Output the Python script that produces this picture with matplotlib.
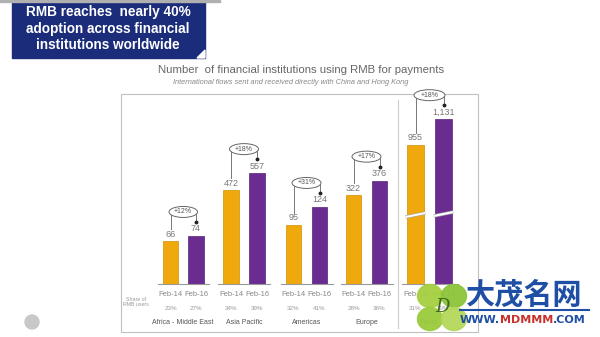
import numpy as np
import matplotlib.pyplot as plt
from matplotlib.patches import Rectangle, Ellipse, Circle

plt.rcParams['font.family'] = ['Liberation Sans', 'DejaVu Sans']

# data
groups = ['Africa - Middle East', 'Asia Pacific', 'Americas', 'Europe', 'World']
periods = ['Feb-14', 'Feb-16']
feb14 = [66, 472, 95, 322, 955]
feb16 = [74, 557, 124, 376, 1131]
share14 = ['23%', '34%', '32%', '28%', '31%']
share16 = ['27%', '39%', '41%', '36%', '39%']
growth = ['+12%', '+18%', '+31%', '+17%', '+18%']

# layout (pixels): first bar centre, bar spacing, y-limit of each panel
first_x = [170.5, 231, 293.5, 353.5, 415.5]
spacing = [25.5, 26, 26, 26, 28]
ytop = [268, 874, 280, 633, 1194]

W, H = 600, 337
ORANGE = '#f0a90c'
PURPLE = '#6a2c90'
GREY = '#777777'

fig = plt.figure(figsize=(W / 100, H / 100), dpi=100)
fig.patch.set_facecolor('white')


def rect(x, y, w, h):
    return [x / W, 1 - (y + h) / H, w / W, h / H]


base_y, top_y = 284, 110
panels = []
for i, g in enumerate(groups):
    sp = spacing[i]
    ax = fig.add_axes(rect(first_x[i] - 0.5 * sp, top_y, 2 * sp, base_y - top_y))
    ax.patch.set_alpha(0)
    vals = [feb14[i], feb16[i]]
    ax.bar([0, 1], vals, width=0.6, color=[ORANGE, PURPLE],
           edgecolor=['#d08f00', '#56207a'], linewidth=0.5)
    ax.set_xlim(-0.5, 1.5)
    ax.set_ylim(0, ytop[i])
    for s in ['top', 'left', 'right']:
        ax.spines[s].set_visible(False)
    ax.spines['bottom'].set_color('#999999')
    ax.spines['bottom'].set_linewidth(0.8)
    ax.set_yticks([])
    ax.set_xticks([0, 1], periods)
    ax.tick_params(axis='x', length=0, pad=5, labelsize=5.5, labelcolor='#888888')
    for j, v in enumerate(vals):
        ax.annotate(f'{v:,}', xy=(j, v), xytext=(0, 7), textcoords='offset pixels',
                    ha='center', va='center', fontsize=6.5, color=GREY)
    for j, s in enumerate([share14[i], share16[i]]):
        ax.annotate(s, xy=(j, 0), xycoords=('data', 'axes fraction'),
                    xytext=(0, -24), textcoords='offset pixels',
                    ha='center', va='center', fontsize=4.5, color='#999999')
    ax.annotate(g, xy=(0.5, 0), xycoords=('data', 'axes fraction'),
                xytext=(0, -39), textcoords='offset pixels',
                ha='center', va='center', fontsize=5, color='#555555')
    panels.append(ax)

# overlay in pixel coordinates (origin top-left)
ov = fig.add_axes([0, 0, 1, 1], zorder=5)
ov.set_xlim(0, W)
ov.set_ylim(H, 0)
ov.axis('off')
ov.patch.set_alpha(0)


def to_px(ax, x, y):
    dx, dy = ax.transData.transform((x, y))
    return dx, H - dy


# header box
ov.add_patch(Rectangle((12, 0), 193, 58, color='#1b2c7a', zorder=1))
ov.add_patch(Rectangle((0, 0), 220, 2, color='#b0b0b0', zorder=1))
for k, line in enumerate(['RMB reaches  nearly 40%', 'adoption across financial',
                          'institutions worldwide']):
    ov.text(108, 12 + 16.5 * k, line, color='white', fontsize=9.8, fontweight='bold',
            ha='center', va='center', zorder=2)
ov.add_patch(plt.Polygon([[197, 58], [205, 50], [205, 58]], color='white', zorder=2))

# chart titles and frame
ov.text(301, 70, 'Number  of financial institutions using RMB for payments',
        fontsize=8.2, color='#666666', ha='center', va='center')
ov.text(291, 83, 'International flows sent and received directly with China and Hong Kong',
        fontsize=5.3, color='#888888', style='italic', ha='center', va='center')
ov.add_patch(Rectangle((121, 94), 357, 238, fill=False, edgecolor='#c0c0c0', lw=0.8))
ov.plot([398, 398], [100, 328], color='#cccccc', lw=0.8)
ov.text(136, 302, 'Share of\nRMB users', fontsize=3.8, color='#999999',
        ha='center', va='center', linespacing=1.1)

# growth call-outs
for i, ax in enumerate(panels):
    x0, y0 = to_px(ax, 0, feb14[i])
    x1, y1 = to_px(ax, 1, feb16[i])
    ey = y1 - 24
    ew = (x1 - x0) + 3
    ov.add_patch(Ellipse(((x0 + x1) / 2, ey), ew, 11, facecolor='white',
                         edgecolor='#666666', lw=0.7, zorder=3))
    ov.text((x0 + x1) / 2, ey, growth[i], fontsize=5, color='#555555',
            ha='center', va='center', zorder=4)
    ov.plot([x0, x0], [ey, y0 - 12], color='#777777', lw=0.7, zorder=2)
    ov.plot([x1, x1], [ey, y1 - 14], color='#777777', lw=0.7, zorder=2)
    ov.plot([x1], [y1 - 14], 'o', ms=1.8, color='#222222', zorder=3)

# axis break on the World bars
wax = panels[-1]
for j in range(2):
    bx, by = to_px(wax, j, 0)
    half = 0.3 * spacing[-1] + 1.5
    yb = by - 69 - j
    ov.plot([bx - half, bx + half], [yb + 2, yb - 2], color='#aaaaaa', lw=2.4,
            solid_capstyle='butt', zorder=2)
    ov.plot([bx - half, bx + half], [yb + 2, yb - 2], color='white', lw=1.4,
            solid_capstyle='butt', zorder=2)

# small round logo bottom-left
ov.add_patch(Circle((32, 322), 7, color='#c8c8c8', zorder=2))

# site watermark
for (dx, dy, c) in [(-12, -11, '#a5cf3f'), (12, -11, '#8cc43a'),
                    (-12, 12, '#9acb3c'), (12, 12, '#b4d85a')]:
    ov.add_patch(Ellipse((442 + dx, 307 + dy), 25, 23, color=c, zorder=6, alpha=0.95))
ov.text(442, 307, 'D', fontsize=13, style='italic', color='#3f6a1a',
        ha='center', va='center', zorder=7, family='DejaVu Serif')
ov.text(524, 295, '大茂名网', fontsize=21, fontweight='bold', color='#1f4ea5',
        ha='center', va='center', zorder=6, family=['Noto Sans CJK SC', 'DejaVu Sans'])
ov.plot([460, 589], [310, 310], color='#1f4ea5', lw=1.5, zorder=6)
t1 = ov.text(460, 320, 'WWW.', fontsize=8, fontweight='bold', color='#1f4ea5',
             ha='left', va='center', zorder=6, family='DejaVu Sans')
t2 = ov.annotate('MDMMM', xy=(1, 0.5), xycoords=t1, fontsize=8, fontweight='bold',
                 color='#c8312b', ha='left', va='center', zorder=6, family='DejaVu Sans')
ov.annotate('.COM', xy=(1, 0.5), xycoords=t2, fontsize=8, fontweight='bold',
            color='#1f4ea5', ha='left', va='center', zorder=6, family='DejaVu Sans')

fig.savefig('out.png', dpi=100)
